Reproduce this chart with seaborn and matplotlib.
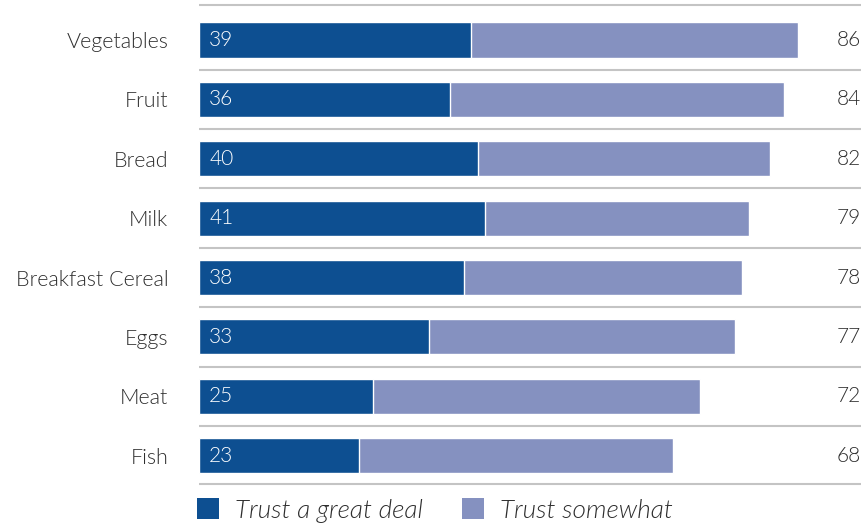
import matplotlib
matplotlib.use("Agg")
import matplotlib.pyplot as plt
from matplotlib.patches import Patch
import seaborn as sns
import pandas as pd

categories = ["Vegetables", "Fruit", "Bread", "Milk", "Breakfast Cereal", "Eggs", "Meat", "Fish"]
trust_great_deal = [39, 36, 40, 41, 38, 33, 25, 23]
trust_total = [86, 84, 82, 79, 78, 77, 72, 68]
series_names = ["Trust a great deal", "Trust somewhat"]

dark_blue = "#0d4f91"
light_blue = "#8591c0"
text_color = "#2e2e2e"
rule_color = "#c4c4c4"

sns.set_theme(style="white")
plt.rcParams["font.family"] = ["Lato", "DejaVu Sans"]
plt.rcParams["font.weight"] = 300

df = pd.DataFrame({"category": categories, "great": trust_great_deal, "total": trust_total})

fig = plt.figure(figsize=(8.61, 5.23), dpi=100)
W, H = 861, 523
left_px, right_px = 199, 861
top_px, bottom_px = 1.4, 491.4
ax = fig.add_axes([left_px / W, (H - bottom_px) / H, (right_px - left_px) / W, (bottom_px - top_px) / H])

sns.barplot(data=df, x="total", y="category", color=light_blue, width=0.59,
            orient="h", ax=ax, saturation=1)
sns.barplot(data=df, x="great", y="category", color=dark_blue, width=0.59,
            orient="h", ax=ax, saturation=1)

ax.set_xlim(0, 95.05)
ax.set_ylim(7.6, -0.65)

# horizontal rules between rows
rule_positions = [-0.59] + [i + 0.5 for i in range(7)] + [7.47]
for y in rule_positions:
    ax.axhline(y, color=rule_color, lw=1.5, zorder=0)

# values inside dark bars and totals on the right
for i, (g, t) in enumerate(zip(trust_great_deal, trust_total)):
    ax.text(1.45, i, str(g), color="white", fontsize=15, va="center", ha="left", fontweight=300)
    ax.text(95.0, i, str(t), color=text_color, fontsize=15, va="center", ha="right", fontweight=300)

ax.set_xlabel("")
ax.set_ylabel("")
ax.set_xticks([])
ax.tick_params(axis="y", length=0, pad=22, labelsize=15.5, labelcolor=text_color)
for lbl in ax.get_yticklabels():
    lbl.set_fontweight(300)
for s in ax.spines.values():
    s.set_visible(False)

handles = [Patch(facecolor=dark_blue, edgecolor="none"), Patch(facecolor=light_blue, edgecolor="none")]
fig.legend(handles, series_names, loc="center left", bbox_to_anchor=(197 / W, (H - 510.5) / H),
           ncol=2, frameon=False, handlelength=0.84, handleheight=0.84,
           handletextpad=0.6, columnspacing=1.5, borderpad=0, borderaxespad=0,
           prop={"family": ["Lato", "DejaVu Sans"], "style": "italic", "size": 18.9, "weight": 300},
           labelcolor=text_color)

fig.savefig("out.png", dpi=100)
